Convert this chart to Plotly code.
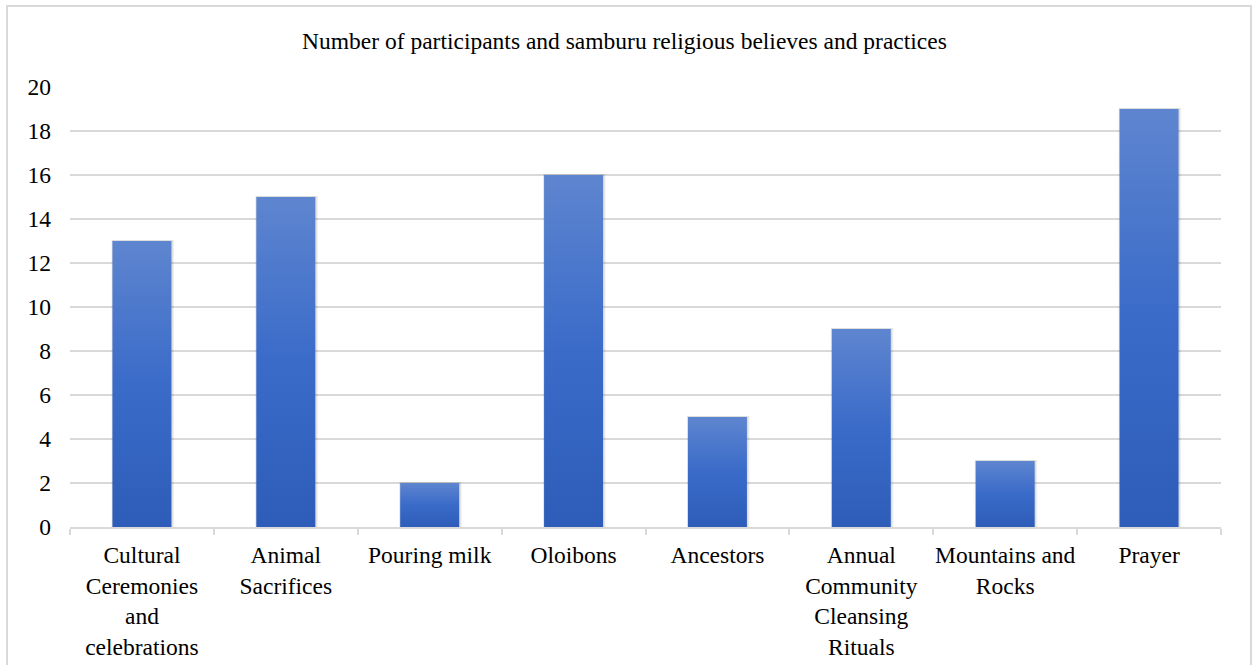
import plotly.graph_objects as go

# Survey responses: beliefs / practices and number of participants
categories = [
    "Cultural<br>Ceremonies<br>and<br>celebrations",
    "Animal<br>Sacrifices",
    "Pouring milk",
    "Oloibons",
    "Ancestors",
    "Annual<br>Community<br>Cleansing<br>Rituals",
    "Mountains and<br>Rocks",
    "Prayer",
]
participants = [13, 15, 2, 16, 5, 9, 3, 19]
y_ticks = list(range(0, 21, 2))

title_text = "Number of participants and samburu religious believes and practices"

FONT = "Liberation Serif"
FS = 23.5
GRID = "#d9d9d9"
BAR_W = 0.41

W, H = 1259, 665
M_L, M_R, M_T, M_B = 70, 38, 87, 138
PW, PH = W - M_L - M_R, H - M_T - M_B

fig = go.Figure()

# soft drop shadow behind each column
for i, v in enumerate(participants):
    for dx, a in [(0.018, 0.06), (0.010, 0.08)]:
        x0, x1 = i - BAR_W / 2 - dx * 0.4, i + BAR_W / 2 + dx
        fig.add_trace(go.Scatter(
            x=[x0, x1, x1, x0, x0],
            y=[0, 0, v + 0.05, v + 0.05, 0],
            fill="toself", mode="lines", line=dict(width=0),
            fillcolor=f"rgba(0,0,0,{a})", hoverinfo="skip", showlegend=False,
        ))

# columns with a vertical gradient fill (darker at the base)
for i, v in enumerate(participants):
    x0, x1 = i - BAR_W / 2, i + BAR_W / 2
    fig.add_trace(go.Scatter(
        x=[x0, x1, x1, x0, x0],
        y=[0, 0, v, v, 0],
        fill="toself", mode="lines", line=dict(width=0),
        fillgradient=dict(
            type="vertical",
            colorscale=[[0, "#2d5db8"], [0.5, "#3a6bc9"], [1, "#5e85cf"]],
        ),
        name=categories[i].replace("<br>", " "),
        hovertemplate="%{text}<extra></extra>",
        text=[str(v)] * 5,
        showlegend=False,
    ))

fig.update_layout(
    width=W, height=H,
    margin=dict(l=M_L, r=M_R, t=M_T, b=M_B, autoexpand=False),
    paper_bgcolor="white", plot_bgcolor="white",
    font=dict(family=FONT, size=FS, color="#000000"),
    title=dict(
        text=title_text, font=dict(family=FONT, size=FS, color="#000000"),
        xref="container", x=0.496, xanchor="center",
        yref="container", y=1 - 41 / H, yanchor="middle",
    ),
    xaxis=dict(
        range=[-0.5, len(categories) - 0.5],
        tickmode="array", tickvals=list(range(len(categories))), ticktext=categories,
        tickfont=dict(family=FONT, size=FS),
        ticks="", showgrid=False, zeroline=False,
        showline=True, linecolor=GRID, linewidth=1.5,
        ticklabelstandoff=6, automargin=False,
        minor=dict(
            tickmode="array",
            tickvals=[i - 0.5 for i in range(len(categories) + 1)],
            ticks="outside", ticklen=6, tickcolor=GRID, tickwidth=1.5, showgrid=False,
        ),
        fixedrange=True,
    ),
    yaxis=dict(
        range=[0, 20],
        tickmode="array", tickvals=y_ticks,
        showgrid=True, gridcolor=GRID, gridwidth=1.5,
        zeroline=False, showline=False, ticks="",
        ticklabelstandoff=18, automargin=False,
        fixedrange=True,
    ),
    shapes=[
        # chart area border
        dict(
            type="rect", xref="paper", yref="paper",
            x0=(7 - M_L) / PW, x1=(1251 - M_L) / PW,
            y0=-(M_B + 20) / PH, y1=1 + (M_T - 6) / PH,
            line=dict(color=GRID, width=2), fillcolor="rgba(0,0,0,0)", layer="below",
        )
    ],
)

fig.write_html("out.html")
